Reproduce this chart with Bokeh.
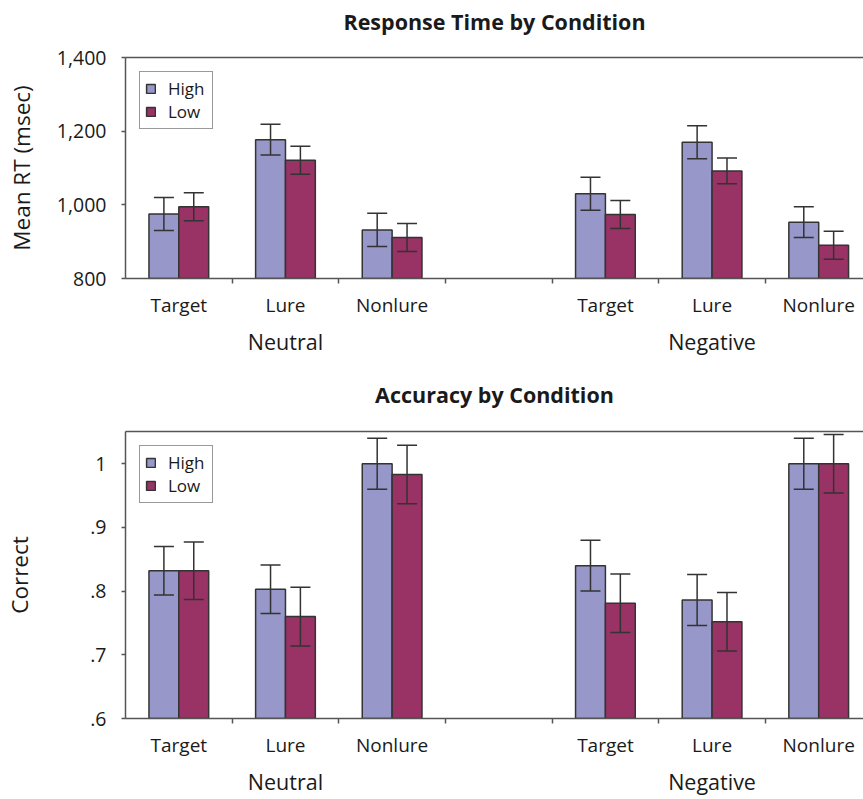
from bokeh.plotting import figure
from bokeh.models import (ColumnDataSource, Range1d, LinearAxis, FixedTicker, Whisker,
                          TeeHead, Legend, LegendItem, CustomJSTickFormatter)
from bokeh.layouts import column
from bokeh.embed import file_html
from bokeh.resources import INLINE

FONT = "Open Sans"

# ---------------- data ----------------
conditions = ["Target", "Lure", "Nonlure"]
valences = ["Neutral", "Negative"]
series_names = ["High", "Low"]

# Response time (msec), order: Neutral T/L/N, Negative T/L/N
rt_high = [975, 1177, 932, 1030, 1170, 953]
rt_high_err = [45, 42, 45, 45, 45, 42]
rt_low = [995, 1121, 911, 974, 1092, 890]
rt_low_err = [38, 38, 38, 38, 35, 38]

# Accuracy (proportion correct)
acc_high = [0.832, 0.803, 1.000, 0.840, 0.786, 1.000]
acc_high_err = [0.038, 0.038, 0.040, 0.040, 0.040, 0.040]
acc_low = [0.832, 0.760, 0.983, 0.781, 0.752, 1.000]
acc_low_err = [0.045, 0.046, 0.046, 0.046, 0.046, 0.046]

rt_ticks = [800, 1000, 1200, 1400]
acc_ticks = [0.6, 0.7, 0.8, 0.9, 1.0]

# ---------------- styling ----------------
HIGH_COLOR = "#9797C9"
LOW_COLOR = "#993366"
EDGE = "#333333"
AXIS = "#555555"
TEXT = "#1a1a1a"
WIDTH = 863

slots = [0, 1, 2, 4, 5, 6]              # slot 3 is the empty gap
centers = [s + 0.5 for s in slots]
boundaries = [1, 2, 3, 4, 5, 6]
group_centers = [1.5, 5.5]
BAR_W = 0.28


def label_formatter(pos, labels):
    return CustomJSTickFormatter(
        args=dict(pos=pos, labs=labels),
        code="const i = pos.findIndex(p => Math.abs(p - tick) < 1e-6); return i >= 0 ? labs[i] : '';")


def make_panel(title, ylabel, y0, y1, yticks, yformatter, high, high_err, low, low_err,
               height, border_top, border_bottom, ylabel_standoff, title_standoff):
    p = figure(width=WIDTH, height=height, output_backend="svg", toolbar_location=None,
               x_range=Range1d(0, 6.92), y_range=Range1d(y0, y1),
               x_axis_location=None, y_axis_location="left",
               min_border_left=125, min_border_right=0,
               min_border_top=border_top, min_border_bottom=border_bottom)
    p.outline_line_color = None
    p.xgrid.visible = False
    p.ygrid.visible = False
    p.background_fill_color = "white"
    p.border_fill_color = "white"

    # y axis
    ya = p.yaxis[0]
    ya.ticker = FixedTicker(ticks=yticks)
    ya.formatter = yformatter
    ya.axis_label = ylabel
    ya.axis_label_text_font = FONT
    ya.axis_label_text_font_size = "22.5px"
    ya.axis_label_text_font_style = "normal"
    ya.axis_label_text_color = TEXT
    ya.axis_label_standoff = ylabel_standoff
    ya.major_label_text_font = FONT
    ya.major_label_text_font_size = "19.5px"
    ya.major_label_text_color = TEXT
    ya.major_label_standoff = 15
    ya.major_tick_out = 4
    ya.major_tick_in = 0
    ya.minor_tick_out = 0
    ya.minor_tick_in = 0
    ya.axis_line_color = AXIS
    ya.axis_line_width = 1.5
    ya.major_tick_line_color = AXIS
    ya.major_tick_line_width = 1.5

    # top frame line, carrying the panel title as its label
    top = LinearAxis(ticker=FixedTicker(ticks=[]),
                     major_tick_out=0, major_tick_in=0, minor_tick_out=0, minor_tick_in=0,
                     major_label_standoff=0, axis_line_color=AXIS, axis_line_width=1.5,
                     axis_label=title, axis_label_text_font=FONT,
                     axis_label_text_font_size="21.5px", axis_label_text_font_style="bold",
                     axis_label_text_color=TEXT, axis_label_standoff=title_standoff)
    p.add_layout(top, "above")

    # x axis: condition labels at slot centres, small ticks at slot boundaries
    xb = LinearAxis(ticker=FixedTicker(ticks=centers, minor_ticks=boundaries),
                    formatter=label_formatter(centers, conditions * 2),
                    major_label_text_font=FONT, major_label_text_font_size="19px",
                    major_label_text_color=TEXT, major_label_standoff=8,
                    major_tick_out=0, major_tick_in=0, minor_tick_out=5, minor_tick_in=0,
                    axis_line_color=AXIS, axis_line_width=1.5,
                    major_tick_line_color=None,
                    minor_tick_line_color=AXIS, minor_tick_line_width=1.5)
    p.add_layout(xb, "below")
    # valence labels
    xc = LinearAxis(ticker=FixedTicker(ticks=group_centers),
                    formatter=label_formatter(group_centers, valences),
                    major_label_text_font=FONT, major_label_text_font_size="21.5px",
                    major_label_text_color=TEXT, major_label_standoff=6,
                    major_tick_out=0, major_tick_in=0, minor_tick_out=0, minor_tick_in=0,
                    axis_line_color=None, major_tick_line_color=None,
                    minor_tick_line_color=None)
    p.add_layout(xc, "below")

    renderers = []
    for vals, errs, color, shift in [(high, high_err, HIGH_COLOR, -BAR_W / 2),
                                     (low, low_err, LOW_COLOR, BAR_W / 2)]:
        src = ColumnDataSource(dict(
            x=[c + shift for c in centers],
            top=vals,
            upper=[v + e for v, e in zip(vals, errs)],
            lower=[v - e for v, e in zip(vals, errs)],
        ))
        r = p.vbar(x="x", top="top", bottom=y0, width=BAR_W, source=src,
                   fill_color=color, line_color=EDGE, line_width=1.5)
        renderers.append(r)
        w = Whisker(source=src, base="x", upper="upper", lower="lower",
                    line_color=EDGE, line_width=1.5, level="annotation",
                    upper_head=TeeHead(size=20, line_color=EDGE, line_width=1.5),
                    lower_head=TeeHead(size=20, line_color=EDGE, line_width=1.5))
        p.add_layout(w)

    legend = Legend(items=[LegendItem(label=series_names[0], renderers=[renderers[0]]),
                           LegendItem(label=series_names[1], renderers=[renderers[1]])],
                    location="top_left", margin=14, padding=5, spacing=-4,
                    glyph_width=11, glyph_height=11, label_height=18, label_width=39,
                    label_standoff=12,
                    label_text_font=FONT, label_text_font_size="17px",
                    label_text_color=TEXT,
                    border_line_color=EDGE, border_line_width=1.5,
                    background_fill_color="white", background_fill_alpha=1.0)
    p.add_layout(legend)
    return p


rt_fmt = CustomJSTickFormatter(code="return tick.toLocaleString('en-US');")
acc_fmt = CustomJSTickFormatter(
    code="return tick >= 0.999 ? '1' : tick.toFixed(1).replace(/^0/, '');")

p1 = make_panel("Response Time by Condition", "Mean RT (msec)", 800, 1400, rt_ticks, rt_fmt,
                rt_high, rt_high_err, rt_low, rt_low_err,
                height=359, border_top=57, border_bottom=81, ylabel_standoff=17,
                title_standoff=22)
p2 = make_panel("Accuracy by Condition", "Correct", 0.6, 1.0506, acc_ticks, acc_fmt,
                acc_high, acc_high_err, acc_low, acc_low_err,
                height=440, border_top=72, border_bottom=81, ylabel_standoff=52,
                title_standoff=23)

layout = column(p1, p2, spacing=0)
open("out.html", "w").write(file_html(layout, INLINE))
